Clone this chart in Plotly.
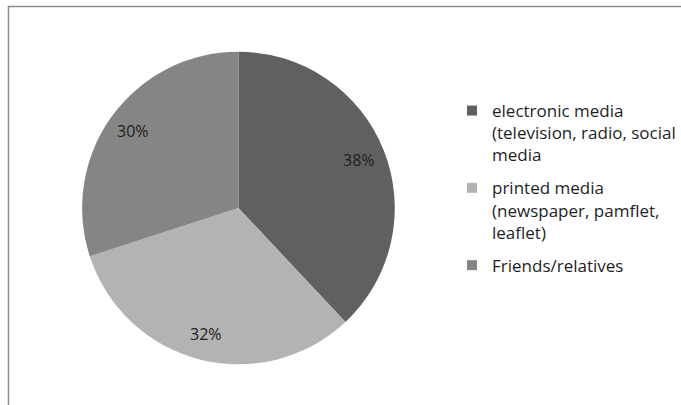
import math
import plotly.graph_objects as go

labels = ["electronic media<br>(television, radio, social<br>media",
          "printed media<br>(newspaper, pamflet,<br>leaflet)",
          "Friends/relatives"]
values = [38, 32, 30]
colors = ["#606060", "#b3b3b3", "#858585"]

W, H = 681, 405
cx, cy, r = 239.5, 208, 157
FONT = "Open Sans"

fig = go.Figure()
fig.add_trace(go.Pie(
    labels=labels, values=values, sort=False, direction="clockwise", rotation=0,
    marker=dict(colors=colors, line=dict(width=0)),
    textinfo="none", showlegend=False,
    domain=dict(x=[(cx - r) / W, (cx + r) / W], y=[(H - cy - r) / H, (H - cy + r) / H]),
    hoverinfo="none",
))

# legend entries (square markers, one group per item)
for i, (lab, col) in enumerate(zip(labels, colors)):
    fig.add_trace(go.Scatter(x=[None], y=[None], mode="markers", name=lab,
                             legendgroup=str(i),
                             marker=dict(symbol="square", size=10, color=col),
                             hoverinfo="none"))

# percentage labels placed along each slice's mid-angle
total = sum(values)
cum = 0
annotations = []
for v in values:
    mid = (cum + v / 2) / total * 2 * math.pi
    cum += v
    px = cx + 0.83 * r * math.sin(mid)
    py = cy - 0.83 * r * math.cos(mid)
    annotations.append(dict(x=px / W, y=1 - py / H, xref="paper", yref="paper",
                            xanchor="center", yanchor="middle",
                            text=f"{round(v / total * 100)}%", showarrow=False,
                            font=dict(family=FONT, size=16, color="#1e1e1e")))

fig.update_layout(
    width=W, height=H, margin=dict(l=0, r=0, t=0, b=0),
    paper_bgcolor="white", plot_bgcolor="white",
    xaxis=dict(visible=False), yaxis=dict(visible=False),
    showlegend=True,
    legend=dict(x=454 / W, y=1 - 93 / H, xanchor="left", yanchor="top",
                valign="top",
                font=dict(family=FONT, size=17, color="#1e1e1e"),
                tracegroupgap=8, itemwidth=30, bgcolor="rgba(0,0,0,0)"),
    annotations=annotations,
    shapes=[dict(type="rect", xref="paper", yref="paper",
                 x0=8.5 / W, x1=1.2, y0=-0.2, y1=1 - 6.5 / H,
                 line=dict(color="#8a8a8a", width=1.5))],
)

fig.write_html("out.html")
